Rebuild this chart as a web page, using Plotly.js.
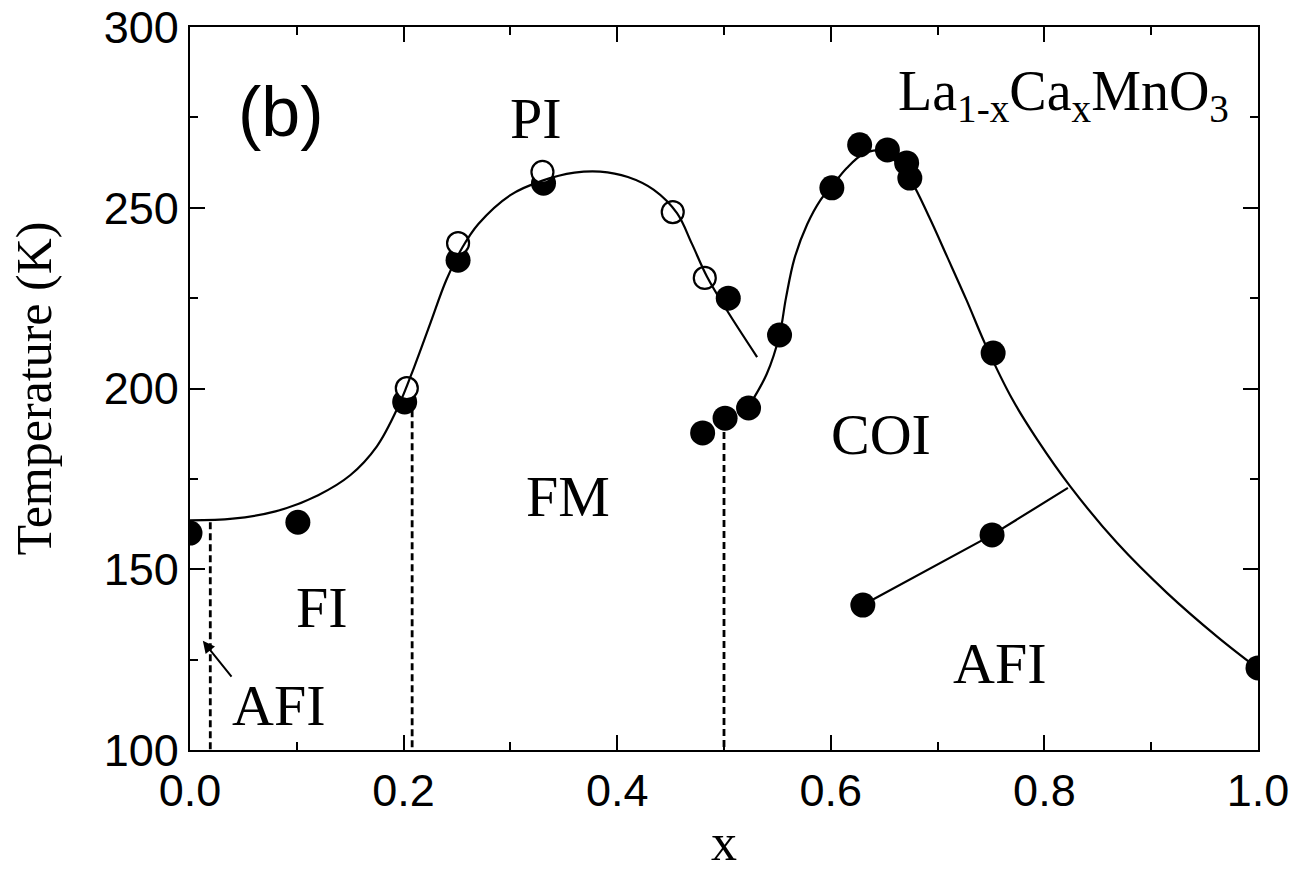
<!DOCTYPE html>
<html>
<head>
<meta charset="utf-8">
<script src="https://cdn.plot.ly/plotly-3.0.1.min.js"></script>
<style>html,body{margin:0;padding:0;background:#fff;}#chart{width:1295px;height:874px;}</style>
</head>
<body>
<div id="chart"></div>
<script>
// Filled circles (measured transition temperatures)
const filledX = [0.0, 0.101, 0.201, 0.251, 0.331, 0.480, 0.501, 0.504, 0.523, 0.552, 0.601, 0.627, 0.653, 0.671, 0.674, 0.752, 0.751, 0.630, 1.0];
const filledY = [160, 163, 196.3, 235.5, 256.8, 187.7, 191.8, 225, 194.6, 214.8, 255.5, 267.4, 266, 262.4, 258.2, 209.8, 159.5, 140.1, 122.7];

// Open circles
const openX = [0.203, 0.251, 0.330, 0.452, 0.482];
const openY = [200.1, 240.2, 259.9, 248.8, 230.6];

// Curve: FM / PI boundary
const tcCurveX = [0.0, 0.04, 0.08, 0.12, 0.15, 0.175, 0.195, 0.21, 0.225, 0.24, 0.255, 0.27, 0.30, 0.33, 0.36, 0.384, 0.41, 0.434, 0.456, 0.47, 0.484, 0.503, 0.531];
const tcCurveY = [163.5, 164.0, 166.0, 170.5, 176.0, 184.0, 195.0, 206.0, 218.0, 230.0, 239.0, 245.5, 253.5, 257.5, 259.7, 260.0, 258.5, 255.0, 248.5, 240.0, 231.0, 221.5, 208.7];

// Curve: charge-order boundary
const coCurveX = [0.523, 0.540, 0.552, 0.558, 0.566, 0.578, 0.590, 0.601, 0.615, 0.630, 0.645, 0.660, 0.675, 0.692, 0.709, 0.727, 0.745, 0.770, 0.793, 0.824, 0.868, 0.915, 0.962, 1.0];
const coCurveY = [195.0, 204.0, 214.8, 225.0, 236.0, 245.5, 252.0, 256.0, 261.0, 264.8, 265.8, 263.0, 257.5, 247.5, 236.4, 224.5, 212.0, 197.0, 186.0, 173.0, 157.3, 143.4, 131.3, 122.5];

// AFI boundary segment
const afiLineX = [0.630, 0.751, 0.822];
const afiLineY = [140.1, 159.5, 172.5];

// Dashed vertical boundaries: x, top temperature
const dashX = [0.019, 0.208, 0.500];
const dashTop = [163, 194, 188];
const dashBottom = 100;

// Axis ticks
const xTicks = [0.0, 0.2, 0.4, 0.6, 0.8, 1.0];
const xTickText = ['0.0', '0.2', '0.4', '0.6', '0.8', '1.0'];
const yTicks = [100, 150, 200, 250, 300];

// Region labels
const labelText = ['PI', 'FM', 'FI', 'AFI', 'COI', 'AFI'];
const labelX = [0.324, 0.354, 0.124, 0.083, 0.647, 0.758];
const labelY = [274.6, 170.0, 139.3, 112.4, 187.4, 124.0];

const serif = 'Liberation Serif, Times New Roman, serif';
const sans = 'Liberation Sans, Arial, sans-serif';

const traces = [];
// dashed lines
for (let i = 0; i < dashX.length; i++) {
  traces.push({x: [dashX[i], dashX[i]], y: [dashTop[i], dashBottom], mode: 'lines',
    line: {color: '#000', width: 2.8, dash: '7px,4px'}, showlegend: false, hoverinfo: 'skip'});
}
traces.push({x: filledX, y: filledY, mode: 'markers', showlegend: false,
  marker: {symbol: 'circle', size: 25, color: '#000', line: {width: 0}}});
traces.push({x: openX, y: openY, mode: 'markers', showlegend: false,
  marker: {symbol: 'circle', size: 22, color: '#fff', line: {width: 2.2, color: '#000'}}});
traces.push({x: tcCurveX, y: tcCurveY, mode: 'lines', showlegend: false,
  line: {color: '#000', width: 2.2, shape: 'spline', smoothing: 1}});
traces.push({x: coCurveX, y: coCurveY, mode: 'lines', showlegend: false,
  line: {color: '#000', width: 2.2, shape: 'spline', smoothing: 1}});
traces.push({x: afiLineX, y: afiLineY, mode: 'lines', showlegend: false,
  line: {color: '#000', width: 2.2}});

const annotations = labelText.map((t, i) => ({
  x: labelX[i], y: labelY[i], xref: 'x', yref: 'y', text: t, showarrow: false,
  font: {family: serif, size: 58, color: '#000'}, xanchor: 'center', yanchor: 'middle'
}));
annotations.push({x: 0.085, y: 276.5, xref: 'x', yref: 'y', text: '(b)', showarrow: false,
  font: {family: sans, size: 70, color: '#000'}, xanchor: 'center', yanchor: 'middle'});
annotations.push({x: 0.818, y: 281.2, xref: 'x', yref: 'y',
  text: 'La<sub>1-x</sub>Ca<sub>x</sub>MnO<sub>3</sub>', showarrow: false,
  font: {family: serif, size: 56, color: '#000'}, xanchor: 'center', yanchor: 'middle'});
annotations.push({x: 0.012, y: 130.2, xref: 'x', yref: 'y', ax: 0.040, ay: 119.9, axref: 'x', ayref: 'y',
  text: '', showarrow: true, arrowhead: 2, arrowsize: 1.2, arrowwidth: 2, arrowcolor: '#000'});

const axisCommon = {
  showgrid: false, zeroline: false, showline: true, linecolor: '#000', linewidth: 2.2,
  mirror: 'ticks', ticks: 'inside', ticklen: 15, tickwidth: 2, tickcolor: '#000',
  tickfont: {family: sans, size: 45, color: '#000'}
};

const layout = {
  width: 1295, height: 874,
  margin: {l: 190, r: 37, t: 27, b: 124},
  paper_bgcolor: '#fff', plot_bgcolor: '#fff',
  showlegend: false,
  xaxis: Object.assign({}, axisCommon, {
    range: [0, 1], tickvals: xTicks, ticktext: xTickText,
    minor: {dtick: 0.1, tick0: 0, ticks: 'inside', ticklen: 8, tickwidth: 2, tickcolor: '#000'},
    title: {text: 'x', font: {family: serif, size: 52, color: '#000'}, standoff: 8}
  }),
  yaxis: Object.assign({}, axisCommon, {
    range: [100, 300], tickvals: yTicks,
    minor: {dtick: 25, tick0: 100, ticks: 'inside', ticklen: 8, tickwidth: 2, tickcolor: '#000'},
    title: {text: 'Temperature (K)', font: {family: serif, size: 50, color: '#000'}, standoff: 36}
  }),
  annotations: annotations
};

Plotly.newPlot('chart', traces, layout, {displayModeBar: false, staticPlot: true});
</script>
</body>
</html>
